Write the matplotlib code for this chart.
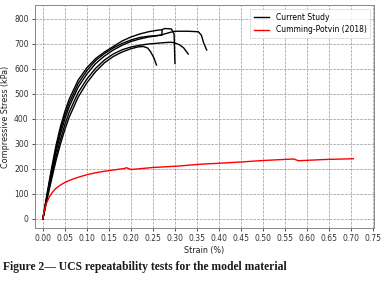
import numpy as np
import matplotlib
matplotlib.use("Agg")
import matplotlib.pyplot as plt

# current study, five specimens (strain %, stress kPa)
strain_1 = [0, 0.01, 0.02, 0.03, 0.04, 0.05, 0.06, 0.08, 0.10, 0.12, 0.14, 0.16, 0.18, 0.20,
            0.22, 0.24, 0.26, 0.27, 0.277, 0.292, 0.298, 0.30]
stress_1 = [0, 105, 205, 295, 370, 430, 480, 555, 605, 642, 668, 690, 712, 728,
            740, 749, 755, 757, 762, 760, 740, 622]

strain_2 = [0, 0.01, 0.02, 0.03, 0.04, 0.05, 0.06, 0.08, 0.10, 0.12, 0.14, 0.16, 0.18, 0.20,
            0.22, 0.24, 0.26, 0.27, 0.29, 0.30, 0.33, 0.353, 0.36, 0.365, 0.372]
stress_2 = [0, 95, 185, 270, 340, 400, 450, 527, 580, 622, 652, 676, 695, 710,
            720, 728, 733, 737, 747, 751, 751, 749, 735, 705, 676]

strain_3 = [0, 0.01, 0.02, 0.03, 0.04, 0.05, 0.06, 0.08, 0.10, 0.12, 0.14, 0.16, 0.18, 0.20,
            0.22, 0.24, 0.26, 0.28, 0.292, 0.30, 0.31, 0.32, 0.33]
stress_3 = [0, 88, 172, 250, 318, 378, 428, 505, 560, 603, 636, 660, 677, 688,
            695, 700, 703, 706, 707, 704, 697, 684, 660]

strain_4 = [0, 0.01, 0.02, 0.03, 0.04, 0.05, 0.06, 0.08, 0.10, 0.12, 0.14, 0.16, 0.18, 0.20,
            0.215, 0.228, 0.238, 0.245, 0.252, 0.258]
stress_4 = [0, 82, 160, 235, 300, 358, 408, 487, 545, 590, 625, 650, 668, 681,
            688, 690, 684, 668, 645, 616]

strain_5 = [0, 0.01, 0.02, 0.03, 0.04, 0.05, 0.06, 0.08, 0.10, 0.12, 0.14, 0.16, 0.18, 0.20,
            0.22, 0.24, 0.26, 0.27, 0.271]
stress_5 = [0, 100, 195, 283, 355, 415, 465, 541, 594, 634, 662, 684, 702, 716,
            726, 731, 734, 735, 757]

# Cumming-Potvin (2018)
strain_cp = [0, 0.002, 0.005, 0.008, 0.012, 0.016, 0.02, 0.025, 0.03, 0.04, 0.05, 0.06,
             0.075, 0.09, 0.10, 0.12, 0.14, 0.16, 0.185, 0.19, 0.20, 0.22, 0.25, 0.31,
             0.357, 0.40, 0.45, 0.50, 0.57, 0.58, 0.64, 0.705]
stress_cp = [0, 25, 45, 62, 78, 92, 103, 114, 123, 136, 146, 154,
             164, 172, 177, 185, 191, 196, 202, 205, 198, 201, 206, 212,
             219, 223, 228, 234, 240, 233, 238, 241]

current = [(strain_1, stress_1), (strain_2, stress_2), (strain_3, stress_3),
           (strain_4, stress_4), (strain_5, stress_5)]

fig = plt.figure(figsize=(3.88, 2.87), dpi=100)
ax = fig.add_axes([0.090, 0.2056, 0.874, 0.777])

for i, (sx, sy) in enumerate(current):
    ax.plot(sx, sy, color="black", lw=1.0, label="Current Study" if i == 0 else None)
ax.plot(strain_cp, stress_cp, color="red", lw=1.0, label="Cumming-Potvin (2018)")

ax.set_xlim(-0.018, 0.752)
ax.set_ylim(-36, 856)
ax.set_xticks(np.arange(0, 0.76, 0.05))
ax.set_xticklabels(["%.2f" % v for v in np.arange(0, 0.76, 0.05)])
ax.set_yticks(np.arange(0, 801, 100))
ax.tick_params(labelsize=5.5, length=2.5, width=0.6, pad=2, colors="#333333")
ax.grid(True, color="#999999", lw=0.5, ls=(0, (4, 1.5)))
for s in ax.spines.values():
    s.set_color("#888888")
    s.set_linewidth(0.7)

ax.set_xlabel("Strain (%)", fontsize=5.8, labelpad=2, color="#222222")
ax.set_ylabel("Compressive Stress (kPa)", fontsize=5.8, labelpad=3, color="#222222")

leg = ax.legend(loc="upper right", fontsize=5.5, frameon=True, fancybox=False,
                handlelength=2.0, borderpad=0.5, labelspacing=0.5)
leg.get_frame().set_edgecolor("#cccccc")
leg.get_frame().set_linewidth(0.5)

fig.text(0.008, 0.06, "Figure 2\u2014 UCS repeatability tests for the model material",
         family="Liberation Serif", weight="bold", fontsize=8.4, color="#1a1a1a")

fig.savefig("out.png", dpi=100)
